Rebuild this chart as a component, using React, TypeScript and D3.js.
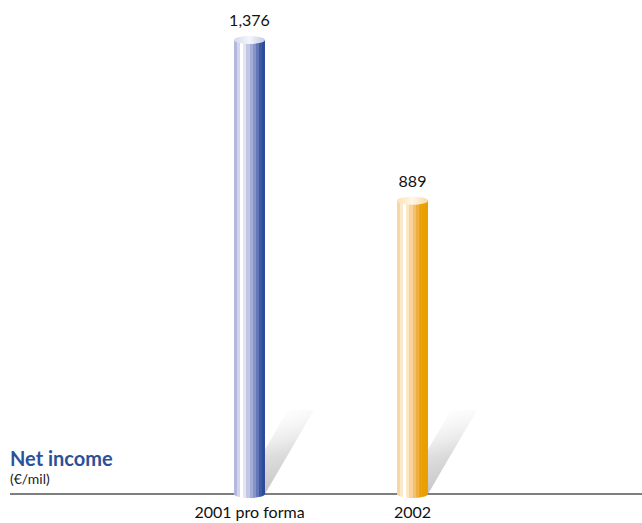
import React from "react";
import * as d3 from "d3";

const categories = ["2001 pro forma", "2002"];
const values = [1376, 889];
const valueLabels = ["1,376", "889"];
const title = "Net income";
const subtitle = "(€/mil)";

export default function App() {
  const W = 642, H = 523;
  const baseY = 494;
  const y = d3.scaleLinear().domain([0, 1376]).range([baseY, 40]);
  const x = d3.scalePoint<string>().domain(categories).range([249.5, 412.5]);
  const bw = 31;
  const rx = bw / 2, ry = 4;
  const font = "Lato, 'Open Sans', sans-serif";
  const palettes = [
    { id: "gb", cap: "gcb", stops: ["#b4b8dc", "#d2d5ec", "#ffffff", "#e4e6f3", "#c2c7e4", "#a4acd8", "#8794c8", "#6276b8", "#3f58a2", "#2f4a98"], capStops: ["#d6d9ee", "#f4f5fb", "#c4c9e6"] },
    { id: "go", cap: "gco", stops: ["#f6d7a6", "#fbe9cc", "#ffffff", "#fde8c6", "#f8d39a", "#f3c070", "#eeae40", "#eba20f", "#e9a000", "#e89f00"], capStops: ["#fde2b8", "#fff6e6", "#f9d9a4"] },
  ];
  return (
    <svg width={W} height={H} style={{ position: "absolute", left: 0, top: 0 }}>
      <defs>
        {palettes.map((p) => (
          <linearGradient key={p.id} id={p.id} x1="0" x2="1" y1="0" y2="0">
            {p.stops.map((c, i) => (
              <React.Fragment key={i}>
                <stop offset={i / p.stops.length} stopColor={c} />
                <stop offset={(i + 1) / p.stops.length} stopColor={c} />
              </React.Fragment>
            ))}
          </linearGradient>
        ))}
        {palettes.map((p) => (
          <linearGradient key={p.cap} id={p.cap} x1="0" x2="1" y1="0" y2="0">
            {p.capStops.map((c, i) => (
              <stop key={i} offset={i / (p.capStops.length - 1)} stopColor={c} />
            ))}
          </linearGradient>
        ))}
        <linearGradient id="shadow" x1="0.6" x2="0.35" y1="1" y2="0">
          <stop offset="0" stopColor="#c2c2c2" stopOpacity="1" />
          <stop offset="0.45" stopColor="#d6d6d6" stopOpacity="0.85" />
          <stop offset="1" stopColor="#f4f4f4" stopOpacity="0" />
        </linearGradient>
      </defs>
      {values.map((v, i) => {
        const cx = x(categories[i])!;
        const right = cx + rx;
        const left = right - 26;
        const top = baseY - 84;
        const dx = 49;
        return (
          <path key={"s" + i}
            d={`M${left},${baseY} L${right},${baseY} L${right + dx},${top} L${left + dx},${top} Z`}
            fill="url(#shadow)" />
        );
      })}
      <line x1={10} x2={642} y1={baseY} y2={baseY} stroke="#000" strokeWidth={1.2} />
      {values.map((v, i) => {
        const cx = x(categories[i])!;
        const p = palettes[i];
        const top = y(v);
        const bot = baseY;
        return (
          <g key={"b" + i}>
            <path
              d={`M${cx - rx},${top} L${cx - rx},${bot} A${rx},${ry} 0 0 0 ${cx + rx},${bot} L${cx + rx},${top} Z`}
              fill={`url(#${p.id})`} />
            <ellipse cx={cx} cy={top} rx={rx} ry={ry} fill={`url(#${p.cap})`} />
            <text x={cx} y={top - 14} textAnchor="middle" fontFamily={font} fontSize={16} fill="#111">{valueLabels[i]}</text>
            <text x={cx} y={518} textAnchor="middle" fontFamily={font} fontSize={16} fill="#111">{categories[i]}</text>
          </g>
        );
      })}
      <text x={10} y={466} fontFamily={font} fontWeight="bold" fontSize={20} fill="#2b5199">{title}</text>
      <text x={10} y={484} fontFamily={font} fontSize={14} fill="#222">{subtitle}</text>
    </svg>
  );
}
